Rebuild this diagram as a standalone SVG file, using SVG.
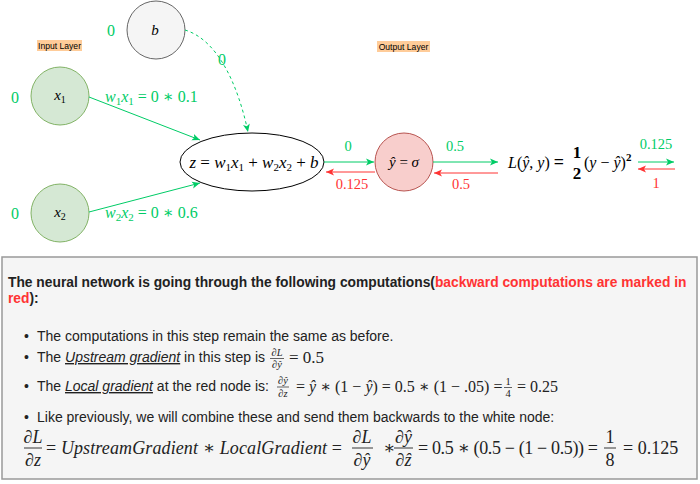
<svg xmlns="http://www.w3.org/2000/svg" width="700" height="484" viewBox="0 0 700 484">
<defs>
<marker id="ag" markerWidth="10" markerHeight="8" refX="8" refY="4" orient="auto" markerUnits="userSpaceOnUse"><path d="M0,0.5 L8,4 L0,7.5 L2,4 z" fill="#00CC66"/></marker>
<marker id="ar" markerWidth="10" markerHeight="8" refX="8" refY="4" orient="auto" markerUnits="userSpaceOnUse"><path d="M0,0.5 L8,4 L0,7.5 L2,4 z" fill="#FF3333"/></marker>
<style>
.m{font-family:"Liberation Serif","DejaVu Serif",serif;}
.i{font-style:italic;}
.s{font-family:"Liberation Sans",Arial,sans-serif;}
.g{fill:#00CC66;}
.r{fill:#FF3333;}
.lg{stroke:#00CC66;stroke-width:1;fill:none;}
.lr{stroke:#FF3333;stroke-width:1;fill:none;}
.lbl{font-family:"Liberation Sans",Arial,sans-serif;font-size:8.6px;fill:#000;}
</style>
</defs>
<rect width="700" height="484" fill="#ffffff"/>

<g id="input-layer-label"><rect x="37" y="40" width="45" height="11" fill="#FFCC99"/><text class="lbl" x="59.5" y="48.5" text-anchor="middle">Input Layer</text></g>
<g id="output-layer-label"><rect x="377" y="41" width="53" height="11" fill="#FFCC99"/><text class="lbl" x="403.5" y="49.5" text-anchor="middle">Output Layer</text></g>

<g id="node-b"><circle cx="156" cy="30" r="29" fill="#f5f5f5" stroke="#666666"/><text class="m i" x="155" y="35" font-size="15" text-anchor="middle">b</text><text class="m g" x="111" y="36" font-size="16" text-anchor="middle">0</text></g>
<g id="node-x1"><circle cx="60" cy="96" r="29" fill="#d5e8d4" stroke="#82b366"/><text class="m" x="60" y="100" font-size="15" text-anchor="middle"><tspan class="i">x</tspan><tspan font-size="10" dy="3">1</tspan></text><text class="m g" x="15" y="103" font-size="16" text-anchor="middle">0</text></g>
<g id="node-x2"><circle cx="60" cy="213" r="29" fill="#d5e8d4" stroke="#82b366"/><text class="m" x="60" y="217" font-size="15" text-anchor="middle"><tspan class="i">x</tspan><tspan font-size="10" dy="3">2</tspan></text><text class="m g" x="15" y="219" font-size="16" text-anchor="middle">0</text></g>
<g id="node-z"><ellipse cx="252" cy="162" rx="72" ry="29" fill="#ffffff" stroke="#000000"/><text class="m" x="254" y="168" font-size="17" text-anchor="middle"><tspan class="i">z</tspan> = <tspan class="i">w</tspan><tspan font-size="11" dy="3">1</tspan><tspan class="i" dy="-3">x</tspan><tspan font-size="11" dy="3">1</tspan><tspan dy="-3"> + </tspan><tspan class="i">w</tspan><tspan font-size="11" dy="3">2</tspan><tspan class="i" dy="-3">x</tspan><tspan font-size="11" dy="3">2</tspan><tspan dy="-3"> + </tspan><tspan class="i">b</tspan></text></g>
<g id="node-yhat"><circle cx="404" cy="162" r="29" fill="#f8cecc" stroke="#b85450"/><text class="m" x="404" y="167" font-size="15" text-anchor="middle"><tspan class="i">ŷ</tspan> = <tspan class="i">σ</tspan></text></g>
<g id="node-loss"><text class="m" x="508" y="168" font-size="16"><tspan class="i">L</tspan>(<tspan class="i">ŷ</tspan>, <tspan class="i">y</tspan>) <tspan font-weight="bold" font-size="18">=</tspan></text><text class="m" x="577" y="158" font-size="17" font-weight="bold" text-anchor="middle">1</text><text class="m" x="577" y="179" font-size="17" font-weight="bold" text-anchor="middle">2</text><text class="m" x="584" y="168" font-size="16">(<tspan class="i">y</tspan> − <tspan class="i">ŷ</tspan>)<tspan font-size="11" font-weight="bold" dy="-7">2</tspan></text></g>

<g id="connectors">
<line class="lg" x1="89" y1="97" x2="200" y2="140" marker-end="url(#ag)"/>
<line class="lg" x1="89" y1="212" x2="200" y2="183" marker-end="url(#ag)"/>
<path class="lg" d="M185,30 C218,40 238,85 248,132" stroke-dasharray="3,3" marker-end="url(#ag)"/>
<line class="lg" x1="324" y1="162" x2="374" y2="162" marker-end="url(#ag)"/>
<line class="lr" x1="375" y1="172" x2="326" y2="172" marker-end="url(#ar)"/>
<line class="lg" x1="433" y1="162" x2="498" y2="162" marker-end="url(#ag)"/>
<line class="lr" x1="498" y1="173" x2="434" y2="173" marker-end="url(#ar)"/>
<line class="lg" x1="638" y1="162" x2="674" y2="162" marker-end="url(#ag)"/>
<line class="lr" x1="675" y1="169" x2="638" y2="169" marker-end="url(#ar)"/>
<text class="m g" x="222" y="65" font-size="16" text-anchor="middle">0</text>
<text class="m g" x="105" y="102" font-size="16"><tspan class="i">w</tspan><tspan font-size="11" dy="3">1</tspan><tspan class="i" dy="-3">x</tspan><tspan font-size="11" dy="3">1</tspan><tspan dy="-3"> = 0 ∗ 0.1</tspan></text>
<text class="m g" x="105" y="218" font-size="16"><tspan class="i">w</tspan><tspan font-size="11" dy="3">2</tspan><tspan class="i" dy="-3">x</tspan><tspan font-size="11" dy="3">2</tspan><tspan dy="-3"> = 0 ∗ 0.6</tspan></text>
<text class="m g" x="348" y="151" font-size="14.5" text-anchor="middle">0</text>
<text class="m r" x="352" y="189" font-size="14.5" text-anchor="middle">0.125</text>
<text class="m g" x="455" y="151" font-size="14.5" text-anchor="middle">0.5</text>
<text class="m r" x="461" y="189" font-size="14.5" text-anchor="middle">0.5</text>
<text class="m g" x="656" y="149" font-size="14.5" text-anchor="middle">0.125</text>
<text class="m r" x="656" y="188" font-size="14.5" text-anchor="middle">1</text>
</g>

<g id="explanation">
<rect x="2" y="257" width="695" height="222" fill="#f5f5f5" stroke="#999999" stroke-width="1.5"/>
<text class="s" x="8" y="287" font-size="13.8" font-weight="bold" fill="#222222">The neural network is going through the following computations(<tspan fill="#FF3333">backward computations are marked in</tspan></text>
<text class="s" x="8" y="303" font-size="13.8" font-weight="bold" fill="#222222"><tspan fill="#FF3333">red</tspan>):</text>

<g class="s" font-size="14" fill="#222222">
<text x="24" y="341">•</text>
<text x="37" y="341">The computations in this step remain the same as before.</text>
<text x="24" y="362">•</text>
<text x="37" y="362">The <tspan font-style="italic" text-decoration="underline">Upstream gradient</tspan> in this step is</text>
<text x="24" y="391">•</text>
<text x="37" y="391">The <tspan font-style="italic" text-decoration="underline">Local gradient</tspan> at the red node is:</text>
<text x="24" y="422">•</text>
<text x="37" y="422">Like previously, we will combine these and send them backwards to the white node:</text>
</g>

<g class="m" fill="#222222">
<text class="i" x="277" y="356" font-size="10.5" text-anchor="middle">∂L</text>
<line x1="270" y1="358.5" x2="284" y2="358.5" stroke="#222222" stroke-width="0.7"/>
<text class="i" x="277" y="368" font-size="10.5" text-anchor="middle">∂ŷ</text>
<text x="289" y="363" font-size="17">= 0.5</text>

<text class="i" x="283" y="384" font-size="10.5" text-anchor="middle">∂ŷ</text>
<line x1="277" y1="387" x2="289" y2="387" stroke="#222222" stroke-width="0.7"/>
<text class="i" x="283" y="397" font-size="10.5" text-anchor="middle">∂z</text>
<text x="296" y="392" font-size="16">= <tspan class="i">ŷ</tspan> ∗ (1 − <tspan class="i">ŷ</tspan>) = 0.5 ∗ (1 − .05) =</text>
<text x="508" y="385" font-size="10.5" text-anchor="middle">1</text>
<line x1="504" y1="387.5" x2="512" y2="387.5" stroke="#222222" stroke-width="0.7"/>
<text x="508" y="397" font-size="10.5" text-anchor="middle">4</text>
<text x="517" y="392" font-size="16">= 0.25</text>

<text class="i" x="33" y="443" font-size="18" text-anchor="middle">∂L</text>
<line x1="24" y1="448" x2="42" y2="448" stroke="#222222" stroke-width="0.9"/>
<text class="i" x="33" y="466" font-size="18" text-anchor="middle">∂z</text>
<text x="46" y="454" font-size="18" textLength="296" lengthAdjust="spacing">= <tspan class="i">UpstreamGradient</tspan> ∗ <tspan class="i">LocalGradient</tspan> =</text>
<text class="i" x="362" y="443" font-size="18" text-anchor="middle">∂L</text>
<line x1="352" y1="448" x2="373" y2="448" stroke="#222222" stroke-width="0.9"/>
<text class="i" x="362" y="466" font-size="18" text-anchor="middle">∂ŷ</text>
<text x="383" y="454" font-size="18">∗</text>
<text class="i" x="403.5" y="443" font-size="18" text-anchor="middle">∂ŷ</text>
<line x1="394" y1="448" x2="413" y2="448" stroke="#222222" stroke-width="0.9"/>
<text class="i" x="403.5" y="466" font-size="18" text-anchor="middle">∂ẑ</text>
<text x="418" y="454" font-size="18" textLength="180" lengthAdjust="spacing">= 0.5 ∗ (0.5 − (1 − 0.5)) =</text>
<text x="610" y="443" font-size="18" text-anchor="middle">1</text>
<line x1="604" y1="448" x2="616" y2="448" stroke="#222222" stroke-width="0.9"/>
<text x="610" y="466" font-size="18" text-anchor="middle">8</text>
<text x="623" y="454" font-size="18">= 0.125</text>
</g>
</g>
</svg>
